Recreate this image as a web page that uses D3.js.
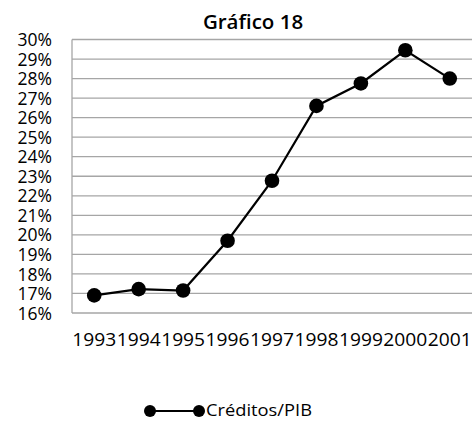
<!DOCTYPE html>
<html>
<head>
<meta charset="utf-8">
<script src="https://cdn.jsdelivr.net/npm/d3@7"></script>
<style>
  body { margin: 0; background: #fff; }
  text { font-family: "Open Sans", sans-serif; fill: #000; }
</style>
</head>
<body>
<script>
// data
const years = ['1993', '1994', '1995', '1996', '1997', '1998', '1999', '2000', '2001'];
const creditos = [0.169, 0.1722, 0.1715, 0.197, 0.2277, 0.266, 0.2775, 0.2945, 0.280];
const yTicks = [0.16, 0.17, 0.18, 0.19, 0.20, 0.21, 0.22, 0.23, 0.24, 0.25, 0.26, 0.27, 0.28, 0.29, 0.30];
const seriesName = 'Créditos/PIB';

const width = 475, height = 421;
const svg = d3.select('body').append('svg')
    .attr('width', width)
    .attr('height', height);

const x = d3.scaleBand().domain(years).range([72, 472]);
const y = d3.scaleLinear().domain([0.16, 0.30]).range([313, 39.5]);

// title
svg.append('text')
    .attr('x', 253)
    .attr('y', 29)
    .attr('text-anchor', 'middle')
    .style('font-weight', '600')
    .style('font-size', '20.5px')
    .text('Gráfico 18');

// gridlines
svg.append('g')
    .selectAll('line')
    .data(yTicks)
    .enter().append('line')
    .attr('x1', 72)
    .attr('x2', 472)
    .attr('y1', d => y(d))
    .attr('y2', d => y(d))
    .attr('stroke', '#a6a6a6')
    .attr('stroke-width', 1.3);

// left axis line
svg.append('line')
    .attr('x1', 72).attr('x2', 72)
    .attr('y1', y(0.30)).attr('y2', y(0.16))
    .attr('stroke', '#a6a6a6')
    .attr('stroke-width', 1.3);

// y labels (packed tight, as in the original)
const yAxis = d3.axisLeft(y)
    .tickValues(yTicks)
    .tickFormat(d3.format('.0%'))
    .tickSize(0)
    .tickPadding(20);
const yg = svg.append('g').attr('transform', 'translate(72,0)').call(yAxis);
yg.select('.domain').remove();
yg.selectAll('text')
    .style('font-family', '"Open Sans", sans-serif')
    .style('font-size', '17.5px')
    .attr('dy', '0.35em');

// x labels, stretched so they butt up against each other like the original
const xAxis = d3.axisBottom(x).tickSize(0).tickPadding(0);
const xg = svg.append('g').attr('transform', 'translate(0,333)').call(xAxis);
xg.select('.domain').remove();
xg.selectAll('text')
    .style('font-family', '"Open Sans", sans-serif')
    .style('font-size', '18px')
    .attr('dy', '0.72em')
    .attr('textLength', x.bandwidth() - 0.5)
    .attr('lengthAdjust', 'spacingAndGlyphs');

// line + markers
const cx = d => x(d) + x.bandwidth() / 2;
const pts = years.map((yr, i) => [cx(yr), y(creditos[i])]);

svg.append('path')
    .datum(pts)
    .attr('d', d3.line())
    .attr('fill', 'none')
    .attr('stroke', '#000')
    .attr('stroke-width', 2.2);

svg.append('g')
    .selectAll('circle')
    .data(pts)
    .enter().append('circle')
    .attr('cx', d => d[0])
    .attr('cy', d => d[1])
    .attr('r', 7.3)
    .attr('fill', '#000');

// legend
const lg = svg.append('g').attr('transform', 'translate(150,411)');
lg.append('line')
    .attr('x1', 0).attr('x2', 49)
    .attr('stroke', '#000')
    .attr('stroke-width', 2);
lg.selectAll('circle')
    .data([0, 49])
    .enter().append('circle')
    .attr('cx', d => d)
    .attr('r', 6)
    .attr('fill', '#000');
lg.append('text')
    .attr('x', 56)
    .attr('dy', '0.35em')
    .style('font-size', '15.5px')
    .attr('textLength', 106)
    .attr('lengthAdjust', 'spacingAndGlyphs')
    .text(seriesName);
</script>
</body>
</html>
